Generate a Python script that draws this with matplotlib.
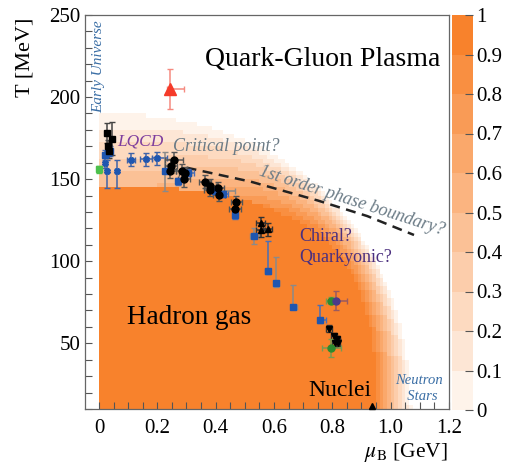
import numpy as np
import matplotlib
matplotlib.use("Agg")
import matplotlib.pyplot as plt
from matplotlib.colors import ListedColormap, BoundaryNorm, to_rgb
from matplotlib.cm import ScalarMappable

# ---------------- data ----------------
# background "hadron" fraction: inner (value 1) and outer (value 0) boundaries
inner_mu0, inner_T0, inner_power = 0.94, 145.0, 3.0
outer_mu0, outer_T0, outer_power = 1.07, 190.0, 2.25
top_dip = 0.5          # value drop just above the crossover line near mu_B = 0
levels = [0, 0.1, 0.2, 0.3, 0.4, 0.5, 0.6, 0.7, 0.8, 0.9, 1.0]
cbar_labels = ["0", "0.1", "0.2", "0.3", "0.4", "0.5", "0.6", "0.7", "0.8", "0.9", "1"]

# black circles
bc_mu = [0.258, 0.247, 0.243, 0.283, 0.295, 0.292, 0.363, 0.380, 0.380, 0.409, 0.411, 0.471, 0.466]
bc_T = [161.4, 158.0, 155.0, 155.0, 153.7, 150.0, 148.4, 146.0, 143.6, 144.5, 140.5, 135.8, 131.8]
bc_xerr = [0.03, 0.02, 0.02, 0.02, 0.02, 0.02, 0.02, 0.02, 0.02, 0.02, 0.02, 0.02, 0.02]
bc_yerr = [5, 4, 4, 4, 4, 5, 4, 4, 4, 4, 4, 4, 4]

# black squares
bs_mu = [0.026, 0.043, 0.032, 0.034]
bs_T = [178.1, 174.6, 170.0, 167.0]
bs_yerr = [6, 10, 4, 4]

# blue squares (blue error bars)
bq1_mu = [0.021, 0.030, 0.038, 0.272, 0.306, 0.426, 0.466, 0.578, 0.757]
bq1_T = [164.9, 166.0, 167.0, 148.6, 154.0, 141.0, 128.0, 94.3, 64.3]
bq1_ylo = [3, 3, 3, 2, 2, 2, 2, 2, 2]
bq1_yhi = [3, 3, 3, 2, 2, 2, 2, 18, 9]
bq1_xlo = [0.005, 0.005, 0.005, 0.005, 0.02, 0.015, 0.005, 0.01, 0.005]
bq1_xhi = [0.005, 0.005, 0.005, 0.005, 0.02, 0.015, 0.005, 0.01, 0.02]

# blue squares (grey error bars)
bq2_mu = [0.226, 0.397, 0.532, 0.606, 0.665]
bq2_T = [154.7, 143.0, 115.5, 86.6, 72.4]
bq2_ylo = [12, 2, 5, 2, 1]
bq2_yhi = [12, 2, 5, 16, 13]
bq2_xlo = [0.005, 0.005, 0.015, 0.005, 0.005]
bq2_xhi = [0.005, 0.07, 0.015, 0.01, 0.015]

# blue stars
st_mu = [0.021, 0.026, 0.061, 0.110, 0.161, 0.198]
st_T = [159.8, 154.7, 154.7, 161.8, 162.2, 162.8]
st_ylo = [3, 10, 10, 4, 4, 4]
st_yhi = [3, 7, 7, 4, 4, 4]
st_xlo = [0.005, 0.005, 0.005, 0.015, 0.02, 0.017]
st_xhi = [0.005, 0.005, 0.005, 0.015, 0.02, 0.034]

# black up triangles
ut_mu = [0.555, 0.555, 0.578]
ut_T = [123.0, 119.0, 119.5]

# black down triangles
dt_mu = [0.789, 0.806, 0.816, 0.808, 0.818]
dt_T = [59.0, 54.5, 52.5, 50.0, 50.5]

# green circles
gc_mu = [0.797, 0.797]
gc_T = [76.0, 47.0]
gc_xerr = [0.02, 0.034]
gc_yerr = [2, 5.5]

# purple circle
pc_mu, pc_T = [0.814], [76.0]

# green square (mu = 0)
gs_mu, gs_T = [0.0], [156.0]

# red triangle
rt_mu, rt_T = [0.243], [205.0]

# nuclei
nu_mu, nu_T = [0.936], [12.0]

# phase boundary (dashed)
pb_mu = [0.30, 0.52, 0.75, 0.92, 1.08]
pb_T = [157.0, 148.5, 137.0, 127.5, 116.0]

# ---------------- figure ----------------
plt.rcParams["font.family"] = ["Liberation Serif", "DejaVu Serif"]
plt.rcParams["mathtext.fontset"] = "stix"

W, H = 506, 467
fig = plt.figure(figsize=(W / 100, H / 100), dpi=100)
ax = fig.add_axes([85 / W, 1 - 409 / H, 364 / W, 394 / H])
cax = fig.add_axes([452 / W, 1 - 410 / H, 21 / W, 395 / H])

c_lo = np.array(to_rgb("#FEF3EA"))
c_hi = np.array(to_rgb("#F8822C"))
cols = [tuple(c_lo + (c_hi - c_lo) * k / 9) for k in range(10)]
cmap = ListedColormap(cols)
norm = BoundaryNorm(levels, cmap.N)

# background field on a coarse grid
mu_e = np.arange(0.0, 1.2 + 1e-9, 0.0125)
T_e = np.arange(10.0, 250 + 1e-9, 2.5)
MU, TT = np.meshgrid(0.5 * (mu_e[1:] + mu_e[:-1]), 0.5 * (T_e[1:] + T_e[:-1]))


def shape(s):
    a = inner_mu0 + (outer_mu0 - inner_mu0) * s
    b = inner_T0 + (outer_T0 - inner_T0) * s
    p = inner_power + (outer_power - inner_power) * s
    return (MU / a) ** p, (TT / b) ** p


def g(s):
    u, v = shape(s)
    return u + v


lo = np.zeros_like(MU)
hi = np.ones_like(MU)
for _ in range(40):
    mid = 0.5 * (lo + hi)
    inside = g(mid) <= 1
    hi = np.where(inside, mid, hi)
    lo = np.where(inside, lo, mid)
s = 0.5 * (lo + hi)
u, v = shape(s)
q = np.clip(v / (u + v), 0, 1)
F = (1 - s) * (1 - top_dip * q ** 4)
F = np.where(g(np.zeros_like(MU)) <= 1, 1.0, F)
F = np.ma.masked_where(g(np.ones_like(MU)) > 1, F)
ax.pcolormesh(mu_e, T_e, np.clip(F, 0, 0.999), cmap=cmap, norm=norm, shading="flat", zorder=0)

# dashed boundary
ax.plot(pb_mu, pb_T, ls=(0, (4, 2.6)), color="#222222", lw=1.8, zorder=2)

blue = "#1F56B0"
grey = "#8A8A8A"
ekw = dict(elinewidth=1.1, capsize=2, capthick=1.0, zorder=3)

ax.errorbar(st_mu, st_T, yerr=[st_ylo, st_yhi], xerr=[st_xlo, st_xhi], fmt="X", ms=4,
            color=blue, ecolor="#3F63A8", **ekw)
ax.errorbar(bq2_mu, bq2_T, yerr=[bq2_ylo, bq2_yhi], xerr=[bq2_xlo, bq2_xhi], fmt="s", ms=4,
            color=blue, ecolor=grey, **ekw)
ax.errorbar(bq1_mu, bq1_T, yerr=[bq1_ylo, bq1_yhi], xerr=[bq1_xlo, bq1_xhi], fmt="s", ms=4,
            color=blue, ecolor="#4A6FB5", **ekw)
ax.errorbar(bs_mu, bs_T, yerr=bs_yerr, fmt="s", ms=4, color="black", ecolor="#444444", **ekw)
ax.errorbar(bc_mu, bc_T, yerr=bc_yerr, xerr=bc_xerr, fmt="o", ms=5, color="black",
            ecolor="#555555", **ekw)
ax.errorbar(ut_mu, ut_T, yerr=4, xerr=0.015, fmt="^", ms=4.5, color="black", ecolor="#333333", **ekw)
ax.errorbar(dt_mu, dt_T, yerr=2, xerr=0.01, fmt="v", ms=4.5, color="black", ecolor="#333333", **ekw)
ax.errorbar(gc_mu, gc_T, yerr=gc_yerr, xerr=gc_xerr, fmt="o", ms=5, color="#2E8B2E",
            ecolor="#7A9A50", **ekw)
ax.errorbar(pc_mu, pc_T, yerr=6, xerr=[[0.02], [0.037]], fmt="o", ms=5, color="#4B3A8A",
            ecolor="#9A5A60", **ekw)
ax.errorbar(gs_mu, gs_T, yerr=2, fmt="s", ms=4, color="#4CC04C", ecolor="#4CC04C", **ekw)
ax.errorbar(rt_mu, rt_T, yerr=12, xerr=[[0.01], [0.05]], fmt="^", ms=9, color="#F53B2A",
            ecolor="#F58A80", **ekw)
ax.plot(nu_mu, nu_T, "^", ms=5, color="black", zorder=3, clip_on=False)

# texts
ax.text(0.767, 222.8, "Quark-Gluon Plasma", fontsize=20, ha="center", va="center")
ax.text(0.308, 65.5, "Hadron gas", fontsize=19.5, ha="center", va="center")
ax.text(0.825, 21.0, "Nuclei", fontsize=17, ha="center", va="center")
ax.text(1.096, 22.2, "Neutron\n  Stars", fontsize=10.5, ha="center", va="center",
        style="italic", color="#3A6EA5", linespacing=1.3)
ax.text(0.0, 218.5, "Early Universe", fontsize=11, ha="center", va="center", rotation=90,
        style="italic", color="#3A6EA5")
ax.text(0.14, 172.8, "LQCD", fontsize=12.5, ha="center", va="center", style="italic",
        color="#7E3E9E")
ax.text(0.438, 169.8, "Critical point?", fontsize=13, ha="center", va="center",
        style="italic", color="#6B7B86")
ax.text(0.866, 137.0, "1st order phase boundary?", fontsize=13, ha="center", va="center",
        style="italic", color="#6B7B86", rotation=-18, rotation_mode="anchor")
ax.text(0.688, 114.9, "Chiral?", fontsize=13, ha="left", va="center", color="#4B2F7F")
ax.text(0.688, 102.0, "Quarkyonic?", fontsize=13, ha="left", va="center", color="#4B2F7F")

# axes
ax.set_xlim(-0.048, 1.2)
ax.set_ylim(10, 250)
ax.set_xticks([0, 0.2, 0.4, 0.6, 0.8, 1.0, 1.2])
ax.set_xticklabels(["0", "0.2", "0.4", "0.6", "0.8", "1.0", "1.2"])
ax.set_xticks(np.arange(0, 1.2001, 0.05), minor=True)
ax.set_yticks([50, 100, 150, 200, 250])
ax.set_yticks(np.arange(10, 251, 10), minor=True)
ax.tick_params(which="both", direction="in", length=5, width=0.8, color="#555555",
               labelsize=15, top=False, right=False)
ax.tick_params(axis="x", pad=7)
for sp in ax.spines.values():
    sp.set_color("#666666")
    sp.set_linewidth(0.9)

fig.text(25 / W, 1 - 57 / H, "T [MeV]", rotation=90, ha="center", va="center", fontsize=16)
fig.text(448 / W, 1 - 452 / H, r"$\mu_\mathrm{B}$ [GeV]", ha="right", va="center", fontsize=15.5)

cb = fig.colorbar(ScalarMappable(norm=norm, cmap=cmap), cax=cax, ticks=levels)
cb.ax.set_yticklabels(cbar_labels)
cb.ax.tick_params(direction="in", length=6, width=0.8, color="#555555", labelsize=15, pad=2)
cb.outline.set_visible(False)

fig.savefig("out.png", dpi=100)
